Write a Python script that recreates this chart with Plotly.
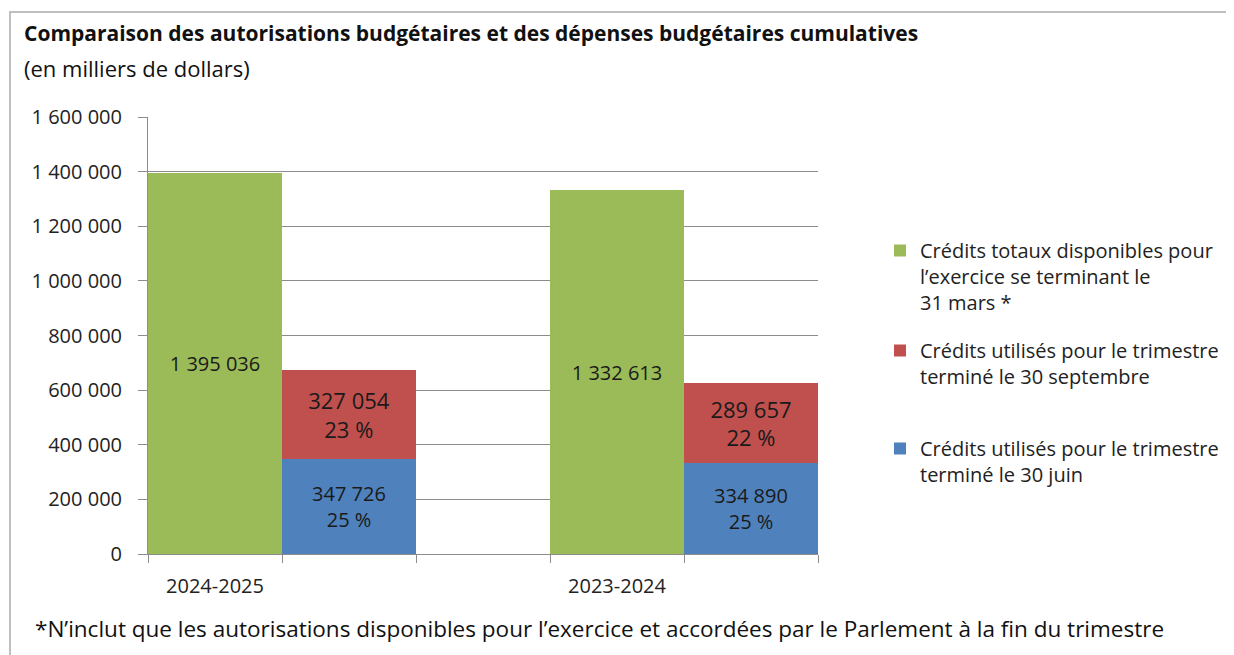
import plotly.graph_objects as go

# ---- data ----
periods = ["2024-2025", "2023-2024"]
credits_totaux = [1395036, 1332613]
credits_juin = [347726, 334890]
credits_sept = [327054, 289657]

legend_totaux = "Crédits totaux disponibles pour<br>l’exercice se terminant le<br>31 mars *"
legend_sept = "Crédits utilisés pour le trimestre<br>terminé le 30 septembre"
legend_juin = "Crédits utilisés pour le trimestre<br>terminé le 30 juin"

title = "<b>Comparaison des autorisations budgétaires et des dépenses budgétaires cumulatives</b>"
subtitle = "(en milliers de dollars)"
footnote = "*N’inclut que les autorisations disponibles pour l’exercice et accordées par le Parlement à la fin du trimestre"

y_ticks = [0, 200000, 400000, 600000, 800000, 1000000, 1200000, 1400000, 1600000]

GREEN = "#9BBB59"
RED = "#C0504D"
BLUE = "#4F81BD"
FONT = "Open Sans"
TXT = "#1a1a1a"


def fmt(v):
    return f"{v:,}".replace(",", " ")


def pct(part, total):
    return f"{round(100 * part / total)} %"


n = len(periods)
green_x = [3 * i + 0.5 for i in range(n)]
stack_x = [3 * i + 1.5 for i in range(n)]

fig = go.Figure()

fig.add_trace(go.Bar(
    x=green_x, y=credits_totaux, width=1, name=legend_totaux,
    marker=dict(color=GREEN, line=dict(width=0)),
    text=[fmt(v) for v in credits_totaux], textposition="inside",
    insidetextanchor="middle", textangle=0,
    textfont=dict(family=FONT, size=20, color=TXT),
    legend="legend",
))
fig.add_trace(go.Bar(
    x=stack_x, y=credits_juin, width=1, name=legend_juin,
    marker=dict(color=BLUE, line=dict(width=0)),
    text=[f"{fmt(v)}<br>{pct(v, t)}" for v, t in zip(credits_juin, credits_totaux)],
    textposition="inside", insidetextanchor="middle", textangle=0,
    textfont=dict(family=FONT, size=20, color=TXT),
    legend="legend3",
))
fig.add_trace(go.Bar(
    x=stack_x, y=credits_sept, width=1, name=legend_sept,
    marker=dict(color=RED, line=dict(width=0)),
    text=[f"{fmt(v)}<br>{pct(v, t)}" for v, t in zip(credits_sept, credits_totaux)],
    textposition="inside", insidetextanchor="middle", textangle=0,
    textfont=dict(family=FONT, size=22, color=TXT),
    legend="legend2",
))

# page offset of the figure inside the html body
OFF = 8
W, H = 1234 - OFF, 655 - OFF
# plot area in page pixels
L, R, T, B = 148, 818, 117, 554


def px(xp):
    return (xp - L) / (R - L)


def py(yp):
    return (B - yp) / (B - T)


leg_common = dict(
    font=dict(family=FONT, size=20, color="#222"),
    bgcolor="rgba(0,0,0,0)", valign="top", itemwidth=30,
    xanchor="left", yanchor="top", tracegroupgap=0,
)

fig.update_layout(
    width=W, height=H,
    margin=dict(l=L - OFF, r=W - (R - OFF), t=T - OFF, b=H - (B - OFF), autoexpand=False),
    paper_bgcolor="white", plot_bgcolor="white",
    barmode="stack", bargap=0,
    separators=", ",
    font=dict(family=FONT, color="#222"),
    showlegend=True,
    legend=dict(x=px(880), y=py(231), **leg_common),
    legend2=dict(x=px(880), y=py(331), **leg_common),
    legend3=dict(x=px(880), y=py(429), **leg_common),
    xaxis=dict(
        range=[0, 3 * n - 1], tickmode="array", tickvals=green_x, ticktext=periods,
        ticks="", showgrid=False, zeroline=False,
        showline=True, linecolor="#8C8C8C", linewidth=1,
        tickfont=dict(family=FONT, size=20, color="#222"),
        ticklabelstandoff=14,
        minor=dict(ticks="outside", tickmode="linear", tick0=0, dtick=1,
                   ticklen=8, tickcolor="#8C8C8C", showgrid=False),
        fixedrange=True,
    ),
    yaxis=dict(
        range=[0, 1600000], tickmode="array", tickvals=y_ticks,
        tickformat=",d", ticks="outside", ticklen=9, tickcolor="#8C8C8C",
        showgrid=True, gridcolor="#8C8C8C", gridwidth=1, zeroline=False,
        showline=True, linecolor="#8C8C8C", linewidth=1,
        tickfont=dict(family=FONT, size=20, color="#222"),
        ticklabelstandoff=12,
    ),
    shapes=[dict(
        type="rect", xref="paper", yref="paper",
        x0=px(10), x1=px(1228), y0=py(12), y1=py(680),
        line=dict(color="#BFBFBF", width=2), fillcolor="rgba(0,0,0,0)", layer="below",
    )],
    annotations=[
        dict(text=title, xref="paper", yref="paper", x=px(22), y=py(33),
             xanchor="left", yanchor="middle", showarrow=False,
             font=dict(family=FONT, size=21, color="#111")),
        dict(text=subtitle, xref="paper", yref="paper", x=px(22), y=py(68),
             xanchor="left", yanchor="middle", showarrow=False,
             font=dict(family=FONT, size=22, color="#111")),
        dict(text=footnote, xref="paper", yref="paper", x=px(33), y=py(628),
             xanchor="left", yanchor="middle", showarrow=False,
             font=dict(family=FONT, size=22.5, color="#111")),
    ],
)

fig.write_html("out.html")
